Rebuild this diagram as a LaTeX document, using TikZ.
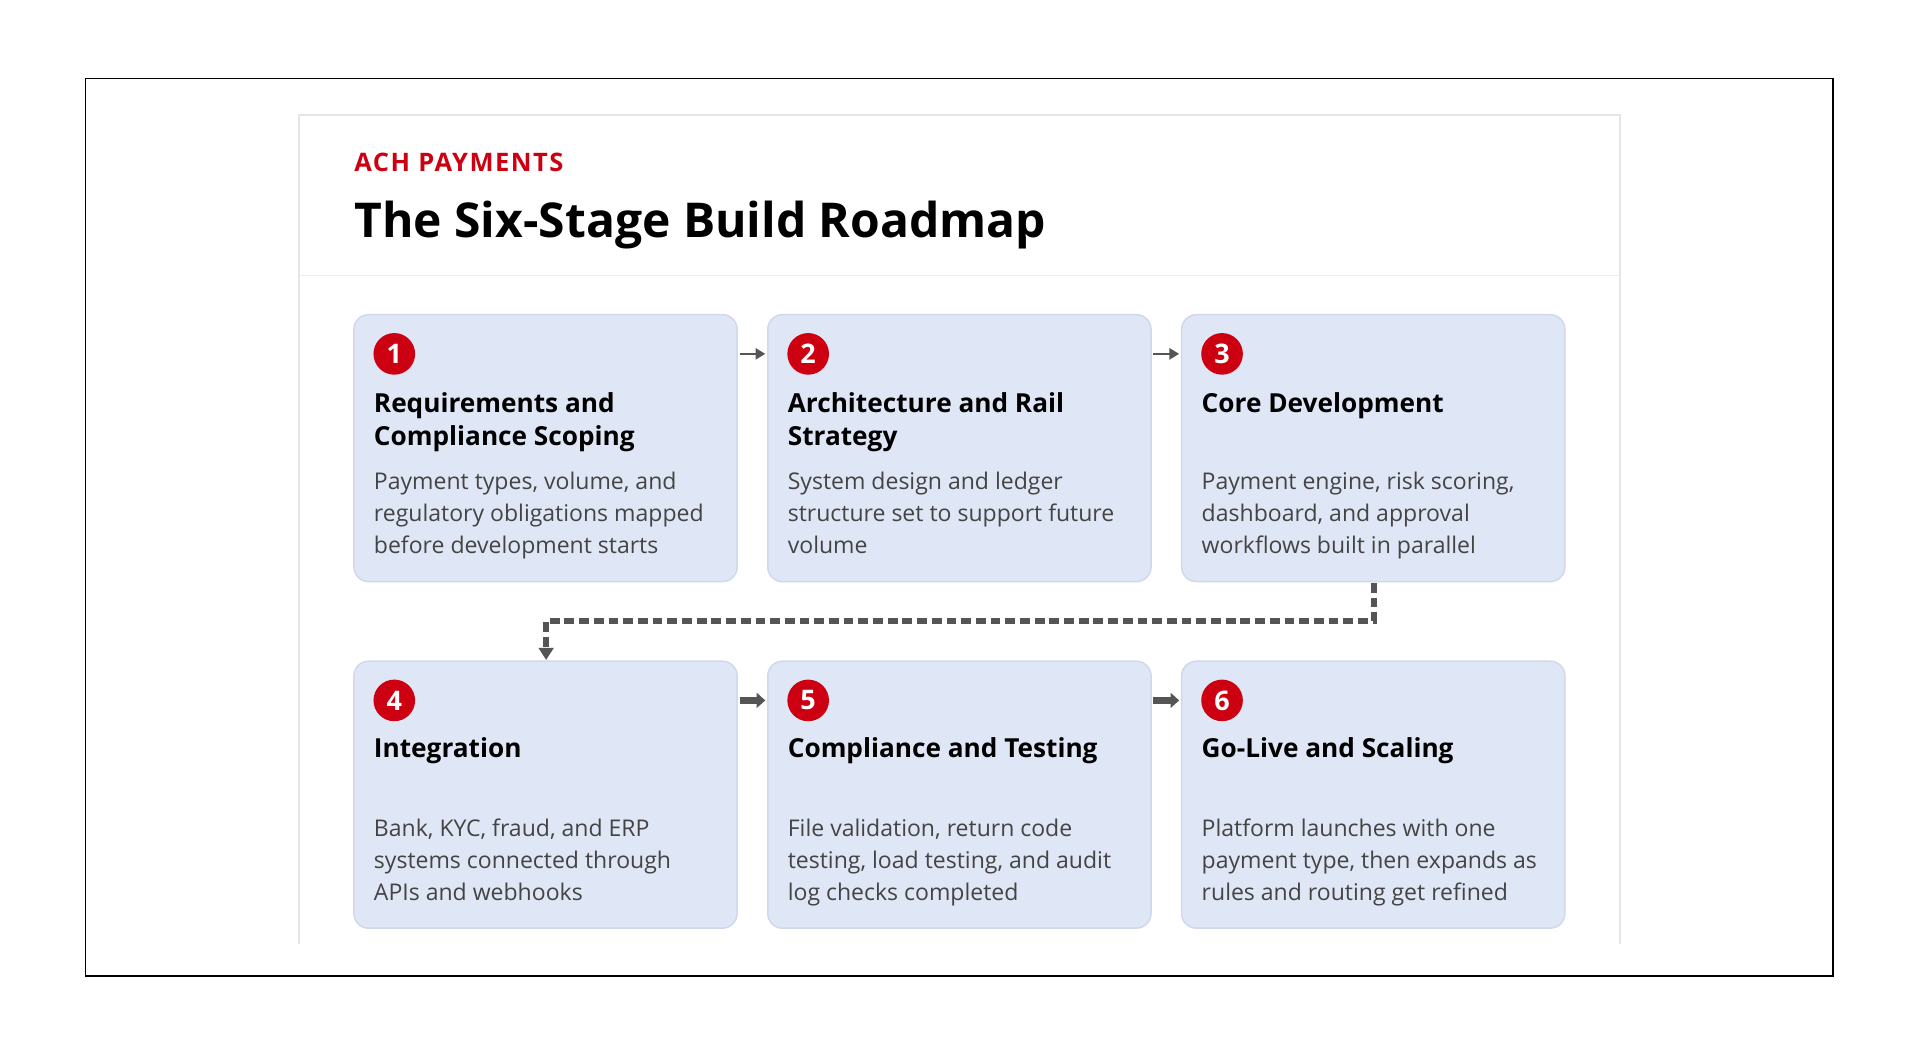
\documentclass[tikz,border=0pt]{standalone}
\usepackage{fontspec}
\setmainfont{Open Sans}
\usetikzlibrary{arrows.meta}
\definecolor{cardfill}{HTML}{DFE6F6}
\definecolor{carddraw}{HTML}{D0D8EC}
\definecolor{achred}{HTML}{CC0011}
\definecolor{bodytxt}{HTML}{444444}
\definecolor{arr}{HTML}{555555}
\tikzset{
 card/.style={fill=cardfill,draw=carddraw,line width=0.6pt,rounded corners=6pt},
 badge/.style={circle,fill=achred,text=white,inner sep=0pt,minimum size=17pt,font=\bfseries\fontsize{11}{11}\selectfont},
 head/.style={anchor=base west,inner sep=0pt,align=left,font=\bfseries\fontsize{10.7}{13.5}\selectfont,text=black},
 body/.style={anchor=base west,inner sep=0pt,align=left,font=\fontsize{9.4}{13}\selectfont,text=bodytxt},
 thin/.style={draw=arr,line width=1pt,-{Triangle[length=4pt,width=4.5pt]}},
 thick/.style={draw=arr,line width=3pt,-{Triangle[length=3.5pt,width=6pt]}},
}
\begin{document}
\begin{tikzpicture}[x=0.5pt,y=-0.5pt]
\useasboundingbox (0,0) rectangle (1568,861);
\fill[white] (0,0) rectangle (1568,861);
\draw[black,line width=0.6pt] (70,64) rectangle (1497,797);
\draw[black!10,line width=0.8pt] (244,771) -- (244,94) -- (1323,94) -- (1323,771);
\draw[black!7,line width=0.8pt] (244,225) -- (1323,225);
\node[anchor=base west,inner sep=0pt,text=achred,font=\bfseries\fontsize{10.4}{12}\selectfont\addfontfeature{LetterSpace=6}] (kicker) at (289,140) {ACH PAYMENTS};
\node[anchor=base west,inner sep=0pt,font=\bfseries\fontsize{19.6}{24}\selectfont] (title) at (289,194) {The Six-Stage Build Roadmap};
% cards
\foreach \n/\x/\y in {1/289/257,2/627/257,3/965/257,4/289/540,5/627/540,6/965/540}{
 \draw[card] (\x,\y) rectangle ++(313,218);
 \coordinate (c\n w) at (\x,\y+32);
 \coordinate (c\n e) at (\x+313,\y+32);
 \node[badge] (b\n) at (\x+33,\y+32) {\n};
}
\coordinate (c3s) at (1122,476);
\coordinate (c4n) at (446,539);
% row 1 text (anchors at last-line baselines)
\node[head] (h1) at (305,364) {Requirements and\\Compliance Scoping};
\node[body] (t1) at (305,452) {Payment types, volume, and\\regulatory obligations mapped\\before development starts};
\node[head] (h2) at (643,364) {Architecture and Rail\\Strategy};
\node[body] (t2) at (643,452) {System design and ledger\\structure set to support future\\volume};
\node[head] (h3) at (981,337) {Core Development};
\node[body] (t3) at (981,452) {Payment engine, risk scoring,\\dashboard, and approval\\workflows built in parallel};
% row 2 text
\node[head] (h4) at (305,619) {Integration};
\node[body] (t4) at (305,735) {Bank, KYC, fraud, and ERP\\systems connected through\\APIs and webhooks};
\node[head] (h5) at (643,619) {Compliance and Testing};
\node[body] (t5) at (643,735) {File validation, return code\\testing, load testing, and audit\\log checks completed};
\node[head] (h6) at (981,619) {Go-Live and Scaling};
\node[body] (t6) at (981,735) {Platform launches with one\\payment type, then expands as\\rules and routing get refined};
% arrows
\draw[thin] ([xshift=1pt]c1e) -- ([xshift=-1pt]c2w);
\draw[thin] ([xshift=1pt]c2e) -- ([xshift=-1pt]c3w);
\draw[thick] ([xshift=1pt]c4e) -- ([xshift=-1pt]c5w);
\draw[thick] ([xshift=1pt]c5e) -- ([xshift=-1pt]c6w);
\draw[draw=arr,line width=2.2pt,dash pattern=on 4pt off 2pt,-{Triangle[length=5pt,width=6pt]}] (c3s) -- (1122,507) -- (446,507) -- (c4n);
\end{tikzpicture}
\end{document}
